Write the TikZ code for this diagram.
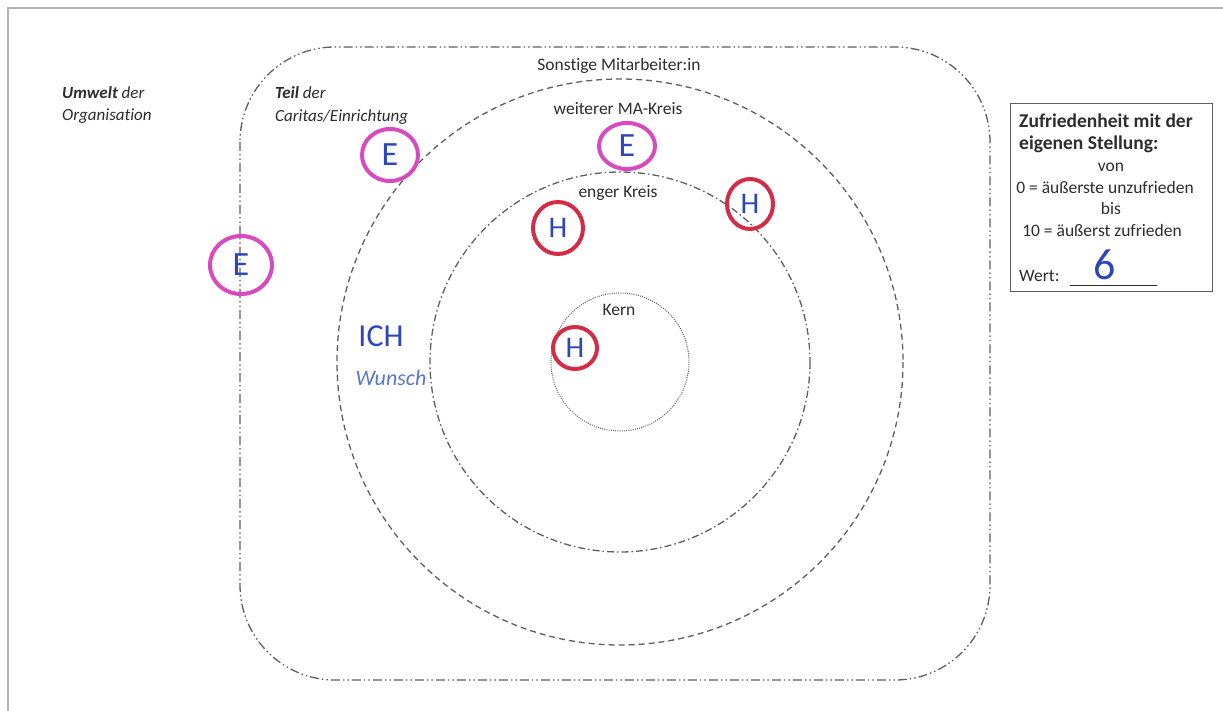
\documentclass[tikz,border=0pt]{standalone}
\usepackage{fontspec}
\setmainfont{Carlito}[Ligatures={NoCommon}]
\usetikzlibrary{shapes.geometric}
\definecolor{linegray}{RGB}{95,95,95}
\definecolor{txtgray}{RGB}{45,45,45}
\definecolor{pinkmark}{RGB}{215,75,190}
\definecolor{redmark}{RGB}{210,45,70}
\definecolor{penblue}{RGB}{45,70,185}
\definecolor{penblue2}{RGB}{90,120,200}
\tikzset{
  ddot/.style={draw=linegray, line width=1.3pt, dash pattern=on 9pt off 3pt on 1.5pt off 3pt on 1.5pt off 3pt},
  dashring/.style={draw=linegray, line width=1.3pt, dash pattern=on 6pt off 4pt},
  dotdashring/.style={draw=linegray, line width=1.3pt, dash pattern=on 7pt off 3pt on 1.5pt off 3pt},
  dotring/.style={draw=linegray, line width=1pt, dash pattern=on 1pt off 1.2pt},
  lbl/.style={text=txtgray, font=\fontsize{17.5}{22}\selectfont, inner sep=0pt, anchor=base},
  emark/.style={ellipse, draw=pinkmark, line width=4pt, text=penblue, font=\fontsize{34}{34}\selectfont, inner sep=0pt},
  hmark/.style={ellipse, draw=redmark, line width=4pt, text=penblue, font=\fontsize{30}{30}\selectfont, inner sep=0pt},
}
\begin{document}
\begin{tikzpicture}[x=1pt,y=-1pt]
\useasboundingbox (0,0) rectangle (1223,711);
\fill[white] (0,0) rectangle (1223,711);
% page frame
\draw[gray!60, line width=1.2pt] (8,711) -- (8,8) -- (1223,8);
% rounded outer region
\draw[ddot, rounded corners=95pt] (240,47) rectangle (990,680);
% rings
\coordinate (c) at (620,362);
\draw[dashring] (c) circle[radius=283];
\draw[dotdashring] (c) circle[radius=190];
\draw[dotring] (c) circle[radius=69];
% labels
\node[lbl, anchor=base west, font=\itshape\fontsize{17}{22}\selectfont] (umwelt1) at (62,99) {\textbf{Umwelt} der};
\node[lbl, anchor=base west, font=\itshape\fontsize{17}{22}\selectfont] (umwelt2) at (62,121) {Organisation};
\node[lbl, anchor=base west, font=\itshape\fontsize{17}{22}\selectfont] (teil1) at (275,99) {\textbf{Teil} der};
\node[lbl, anchor=base west, font=\itshape\fontsize{17}{22}\selectfont] (teil2) at (275,122) {Caritas/Einrichtung};
\node[lbl] (sonst) at (619,71) {Sonstige Mitarbeiter:in};
\node[lbl] (weiter) at (618,115) {weiterer MA-Kreis};
\node[lbl] (enger) at (618,198) {enger Kreis};
\node[lbl] (kern) at (619,316) {Kern};
% marks
\node[emark, minimum width=56, minimum height=52] (e1) at (390,155) {E};
\node[emark, minimum width=56, minimum height=46] (e2) at (627,146) {E};
\node[emark, minimum width=62, minimum height=58] (e3) at (241,265) {E};
\node[hmark, minimum width=50, minimum height=52] (h1) at (558,228) {H};
\node[hmark, minimum width=46, minimum height=50] (h2) at (750,204) {H};
\node[hmark, minimum width=44, minimum height=42] (h3) at (575,348) {H};
% handwriting
\node[text=penblue, font=\fontsize{32}{32}\selectfont, inner sep=0pt] (ich) at (381,336) {ICH};
\node[text=penblue2, font=\itshape\fontsize{22}{22}\selectfont, inner sep=0pt] (wunsch) at (391,378) {Wunsch};
% satisfaction box
\node[draw=linegray, line width=1.2pt, minimum width=202, minimum height=188, anchor=north west, inner sep=0pt] (box) at (1010,103) {};
\node[text=txtgray, font=\bfseries\fontsize{19.5}{22}\selectfont, anchor=base west, inner sep=0pt] (zt1) at (1019,128) {Zufriedenheit mit der};
\node[text=txtgray, font=\bfseries\fontsize{19.5}{22}\selectfont, anchor=base west, inner sep=0pt] (zt2) at (1019,150) {eigenen Stellung:};
\node[lbl] (von) at (1111,172) {von};
\node[lbl] (s0) at (1105,194) {0 = äußerste unzufrieden};
\node[lbl] (bis) at (1111,215) {bis};
\node[lbl] (s10) at (1102,237) {10 = äußerst zufrieden};
\node[lbl, anchor=base west] (wert) at (1019,281) {Wert:};
\coordinate (ul1) at (1070,285);
\coordinate (ul2) at (1157,285);
\draw[txtgray, line width=0.9pt] (ul1) -- (ul2);
\node[text=penblue, font=\fontsize{44}{44}\selectfont, inner sep=0pt] (six) at (1105,265) {6};
\end{tikzpicture}
\end{document}
